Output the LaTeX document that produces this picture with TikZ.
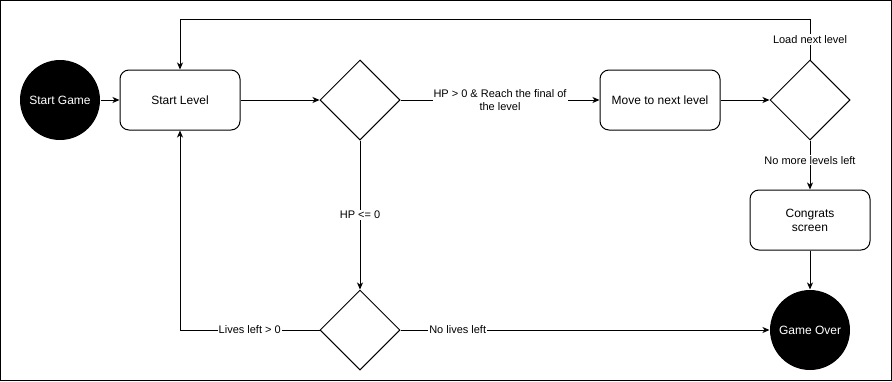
\documentclass[tikz,border=0pt]{standalone}
\usepackage{fontspec}
\setmainfont{Liberation Sans}
\usetikzlibrary{arrows.meta,positioning,shapes.geometric}

\begin{document}
\begin{tikzpicture}[
    x=1pt, y=-1pt,
    line width=1pt,
    >={Stealth[length=7pt,width=6pt,inset=2pt]},
    every node/.style={font=\fontsize{12}{14}\selectfont, align=center},
    terminal/.style={circle, fill=black, text=white, minimum size=80pt, inner sep=0pt},
    stage/.style={draw, rounded corners=9pt, minimum width=120pt, minimum height=60pt, inner sep=2pt},
    choice/.style={draw, diamond, minimum width=80pt, minimum height=80pt, inner sep=0pt},
    flow/.style={draw, ->},
    cond/.style={fill=white, font=\fontsize{11}{13}\selectfont, inner sep=1pt},
]
\useasboundingbox (0,0) rectangle (892,381);
\draw (0.5,0.5) rectangle (891.5,380.5);

\node[terminal] (startgame) at (60,100) {Start Game};
\node[stage] (startlevel) at (180,100) {Start Level};
\node[choice] (hpcheck) at (360,100) {};
\node[stage] (nextlevel) at (660,100) {Move to next level};
\node[choice] (levelcheck) at (810,100) {};
\node[stage] (congrats) at (810,220) {Congrats\\screen};
\node[terminal] (gameover) at (810,330) {Game Over};
\node[choice] (livescheck) at (360,330) {};

\draw[flow] (startgame) -- (startlevel);
\draw[flow] (startlevel) -- (hpcheck);
\draw[flow] (hpcheck) -- node[cond] {HP > 0 \& Reach the final of\\the level} (nextlevel);
\draw[flow] (nextlevel) -- (levelcheck);
\draw[flow] (levelcheck.north) -- node[cond] {Load next level} ++(0,-40) -| (startlevel.north);
\draw[flow] (levelcheck) -- node[cond, pos=0.4] {No more levels left} (congrats);
\draw[flow] (congrats) -- (gameover);
\draw[flow] (hpcheck) -- node[cond] {HP <= 0} (livescheck);
\draw[flow] (livescheck.west) -| node[cond, pos=0.25] {Lives left > 0} (startlevel.south);
\draw[flow] (livescheck) -- node[cond, pos=0.155] {No lives left} (gameover);
\end{tikzpicture}
\end{document}
